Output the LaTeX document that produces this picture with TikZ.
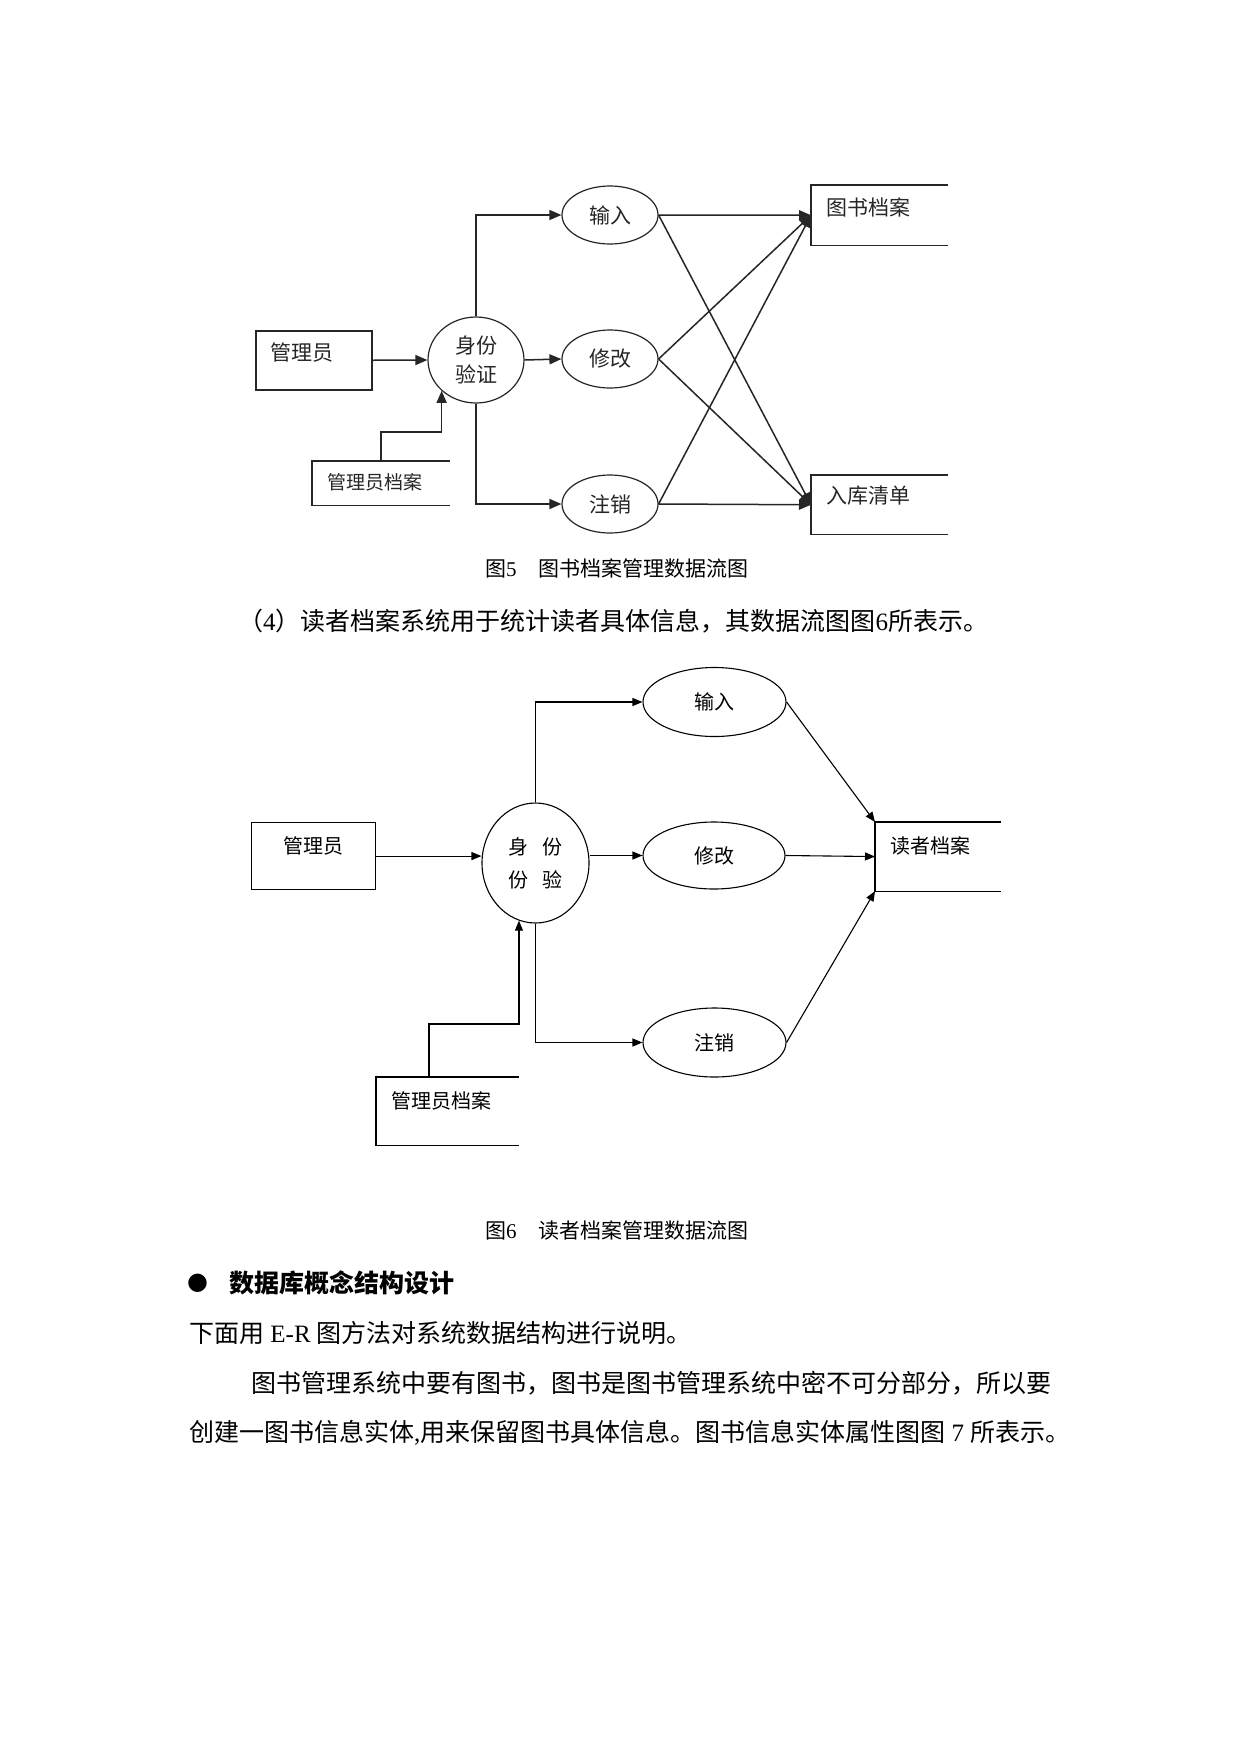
\documentclass[tikz,border=0pt]{standalone}
\usepackage{fontspec}
\setmainfont{Liberation Serif}
\newfontfamily\zh{Noto Sans CJK SC}
\newfontfamily\symb{DejaVu Sans}
\usetikzlibrary{shapes.geometric}
\usetikzlibrary{arrows.meta}

\tikzset{
  proc/.style={ellipse, draw, inner sep=0pt, align=center},
  entity/.style={draw, anchor=north west, inner ysep=0pt, inner xsep=15pt, align=left},
  store/.style={anchor=north west, inner ysep=0pt, inner xsep=15pt, align=left},
  txt/.style={anchor=west, inner sep=0pt},
}

\begin{document}
\begin{tikzpicture}[x=1pt, y=-1pt]
    % Page
    \path[use as bounding box, fill=white] (0,0) rectangle (1241,1754);

    % Figure 5
    \begin{scope}[line width=1.5pt, draw=black!85, >={Triangle[length=12pt, width=10pt]},
                  every node/.style={text=black!85, font=\zh\fontsize{21}{29}\selectfont}]
        \node[entity, text width=86pt, text height=30pt, text depth=29pt]  (mgr5)  at (255,330) {管理员};
        \node[proc, line width=1.2pt, minimum width=96pt, minimum height=86pt] (auth5) at (476,360) {身份\\验证};
        \node[proc, line width=1.2pt, minimum width=96pt, minimum height=58pt] (in5)   at (610,215) {输入};
        \node[proc, line width=1.2pt, minimum width=96pt, minimum height=58pt] (mod5)  at (610,359) {修改};
        \node[proc, line width=1.2pt, minimum width=96pt, minimum height=58pt] (del5)  at (610,504) {注销};
        \node[store, text width=106pt, text height=28pt, text depth=15pt,
              font=\zh\fontsize{19}{23}\selectfont]                        (ar5)   at (312,461) {管理员档案};
        \node[store, text width=105pt, text height=30pt, text depth=29pt]  (bk5)   at (811,185) {图书档案};
        \node[store, text width=105pt, text height=28pt, text depth=30pt]  (rk5)   at (811,475) {入库清单};
        % open stores
        \foreach \st in {ar5, bk5, rk5}
            \draw (\st.north east) -- (\st.north west) -- (\st.south west) -- (\st.south east);
        % flows
        \draw[->] (mgr5.east) -- (auth5.west);
        \draw[->] (auth5.north) |- (in5.west);
        \draw[->] (auth5.east) -- (mod5.west);
        \draw[->] (auth5.south) |- (del5.west);
        \draw[->] (ar5.north) -- ++(0,-29) -| (auth5.south west);
        \foreach \src in {in5, mod5, del5} {
            \draw[->] (\src.east) -- (bk5.west);
            \draw[->] (\src.east) -- (rk5.west);
        }
    \end{scope}

    % Figure 6
    \begin{scope}[line width=1.1pt, >={Triangle[length=10pt, width=8pt]},
                  every node/.style={font=\zh\fontsize{20}{33}\selectfont}]
        \node[entity, align=center, text width=94pt, text height=30.6pt, text depth=36.4pt] (mgr6) at (251,822) {管理员};
        \node[proc, minimum width=107pt, minimum height=120pt] (auth6) at (535.5,863) {身\hspace{14pt}份\\份\hspace{14pt}验};
        \node[proc, minimum width=143pt, minimum height=69pt]  (in6)   at (714.5,702) {输入};
        \node[proc, minimum width=142pt, minimum height=67pt]  (mod6)  at (714,855.5) {修改};
        \node[proc, minimum width=143pt, minimum height=69pt]  (del6)  at (714.5,1042.5) {注销};
        \node[store, text width=112pt, text height=30.6pt, text depth=36.4pt] (ar6) at (376,1077) {管理员档案};
        \node[store, text width=95pt, text height=30.6pt, text depth=37.4pt]  (rd6) at (875,822) {读者档案};
        % open stores
        \foreach \st in {ar6, rd6}
            \draw (\st.north east) -- (\st.north west) -- (\st.south west) -- (\st.south east);
        % flows
        \draw[->] (mgr6.east) -- (mgr6.east -| auth6.west);
        \draw[->] (auth6.north) |- (in6.west);
        \draw[->] (auth6.east |- mod6.west) -- (mod6.west);
        \draw[->] (auth6.south) |- (del6.west);
        \draw[->] (ar6.north west) ++(53,0) -- ++(0,-53) -| (auth6.-106);
        \draw[->] (in6.east) -- (rd6.north west);
        \draw[->] (mod6.east) -- (rd6.west);
        \draw[->] (del6.east) -- (rd6.south west);
    \end{scope}

    % Captions and body text
    \node[txt, font=\fontsize{21}{25}\selectfont] (cap5) at (485,568)
        {{\zh 图}5\hspace{22pt}{\zh 图书档案管理数据流图}};
    \node[txt, font=\fontsize{25}{30}\selectfont] (para4) at (238,621)
        {{\zh （}4{\zh ）读者档案系统用于统计读者具体信息，其数据流图图}6{\zh 所表示。}};
    \node[txt, font=\fontsize{21}{25}\selectfont] (cap6) at (485,1230)
        {{\zh 图}6\hspace{22pt}{\zh 读者档案管理数据流图}};
    \node[inner sep=0pt, font=\symb\fontsize{24}{24}\selectfont] (dot) at (197.5,1283) {●};
    \node[txt, font=\fontsize{25}{30}\selectfont] (head) at (229,1283)
        {{\zh\bfseries 数据库概念结构设计}};
    \node[txt, font=\fontsize{25}{30}\selectfont] (line1) at (189,1333)
        {{\zh 下面用} E-R {\zh 图方法对系统数据结构进行说明。}};
    \node[txt, font=\fontsize{25}{30}\selectfont] (line2) at (251,1383)
        {{\zh 图书管理系统中要有图书，图书是图书管理系统中密不可分部分，所以要}};
    \node[txt, font=\fontsize{25}{30}\selectfont] (line3) at (189,1433)
        {{\zh 创建一图书信息实体},{\zh 用来保留图书具体信息。图书信息实体属性图图} 7 {\zh 所表示。}};
\end{tikzpicture}
\end{document}
